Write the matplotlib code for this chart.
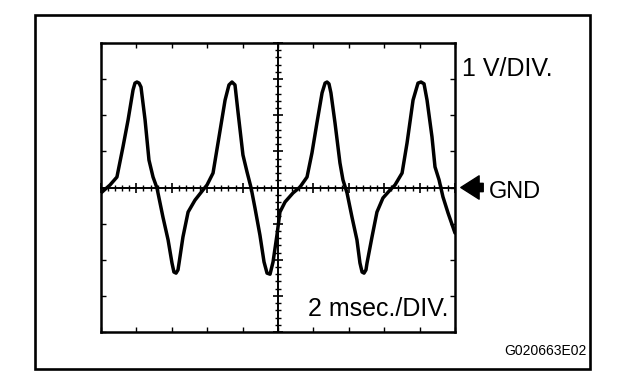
import matplotlib
matplotlib.use("Agg")
import matplotlib.pyplot as plt
from matplotlib.patches import Rectangle, FancyArrowPatch
from matplotlib.ticker import MultipleLocator, NullFormatter, NullLocator

plt.rcParams['font.family'] = ['Liberation Sans', 'DejaVu Sans']

# Waveform samples (time in ms, voltage in V)
time_ms = [0.00, 0.51, 0.90, 1.24, 1.53, 1.81, 1.92, 2.03, 2.15, 2.26, 2.49, 2.71,
           2.94, 3.16, 3.50, 3.79, 4.01, 4.12, 4.24, 4.35, 4.41, 4.63, 4.92, 5.31,
           5.76, 5.99, 6.33, 6.61, 7.01, 7.23, 7.40, 7.57, 7.74, 8.02, 8.25, 8.48,
           8.70, 8.98, 9.21, 9.38, 9.55, 9.72, 9.94, 10.11, 10.40, 10.85, 11.24,
           11.64, 11.92, 12.20, 12.49, 12.66, 12.77, 12.88, 12.99, 13.22, 13.50,
           13.67, 13.90, 14.18, 14.46, 14.63, 14.75, 14.86, 14.97, 15.03, 15.31,
           15.59, 15.93, 16.33, 16.61, 17.01, 17.29, 17.63, 17.91, 18.08, 18.25,
           18.42, 18.70, 18.87, 19.10, 19.32, 19.61, 20.00]
volts = [-0.15, 0.07, 0.29, 1.12, 1.87, 2.70, 2.89, 2.92, 2.89, 2.78, 1.87, 0.76,
         0.29, -0.01, -0.82, -1.45, -2.09, -2.34, -2.37, -2.28, -2.09, -1.37, -0.68,
         -0.35, -0.07, 0.07, 0.40, 1.23, 2.42, 2.84, 2.92, 2.84, 2.09, 0.90, 0.43,
         -0.01, -0.57, -1.32, -2.06, -2.37, -2.40, -2.06, -1.32, -0.68, -0.40,
         -0.15, 0.01, 0.29, 0.96, 1.79, 2.62, 2.89, 2.92, 2.87, 2.62, 1.79, 0.68,
         0.21, -0.15, -0.82, -1.45, -2.09, -2.34, -2.37, -2.28, -2.09, -1.37,
         -0.68, -0.29, -0.07, 0.07, 0.40, 1.23, 2.42, 2.89, 2.92, 2.87, 2.42, 1.40,
         0.57, 0.21, -0.26, -0.71, -1.26]

t_range = [0, 20]      # 10 divisions x 2 ms
v_range = [-4, 4]      # 8 divisions x 1 V
ms_per_div = 2
v_per_div = 1

W, H = 624, 382
fig = plt.figure(figsize=(W / 100, H / 100), dpi=100)
fig.patch.set_facecolor('white')

# outer border
fig.patches.append(Rectangle((35 / W, 1 - 369 / H), (590 - 35) / W, (369 - 15) / H,
                             transform=fig.transFigure, fill=False,
                             edgecolor='black', linewidth=1.9))

pos = [101 / W, 1 - 332 / H, (455 - 101) / W, (332 - 43) / H]

# screen frame axes
ax = fig.add_axes(pos)
ax.set_xlim(*t_range)
ax.set_ylim(*v_range)
for s in ax.spines.values():
    s.set_linewidth(1.8)
ax.xaxis.set_major_locator(MultipleLocator(ms_per_div))
ax.yaxis.set_major_locator(MultipleLocator(v_per_div))
ax.xaxis.set_minor_locator(NullLocator())
ax.yaxis.set_minor_locator(NullLocator())
ax.tick_params(which='major', direction='in', length=3.5, width=1.0,
               top=True, right=True, labelbottom=False, labelleft=False)
ax.set_facecolor('white')

# centre graticule axes
axc = fig.add_axes(pos)
axc.set_xlim(*t_range)
axc.set_ylim(*v_range)
axc.patch.set_visible(False)
axc.spines['top'].set_visible(False)
axc.spines['right'].set_visible(False)
axc.spines['left'].set_position(('data', (t_range[0] + t_range[1]) / 2))
axc.spines['bottom'].set_position(('data', 0))
axc.spines['left'].set_linewidth(1.4)
axc.spines['bottom'].set_linewidth(1.4)
axc.xaxis.set_major_locator(MultipleLocator(ms_per_div))
axc.xaxis.set_minor_locator(MultipleLocator(ms_per_div / 5))
axc.yaxis.set_major_locator(MultipleLocator(v_per_div))
axc.yaxis.set_minor_locator(MultipleLocator(v_per_div / 5))
axc.tick_params(which='major', direction='inout', length=7.5, width=1.2,
                labelbottom=False, labelleft=False)
axc.tick_params(which='minor', direction='inout', length=4.5, width=1.0)
axc.xaxis.set_minor_formatter(NullFormatter())
axc.yaxis.set_minor_formatter(NullFormatter())

axc.plot(time_ms, volts, color='black', linewidth=2.5, solid_joinstyle='round',
         solid_capstyle='round', clip_on=True)

# labels
fig.text(462 / W, 1 - 76 / H, '1 V/DIV.', fontsize=18, ha='left', va='baseline')
fig.text(449 / W, 1 - 316 / H, '2 msec./DIV.', fontsize=18, ha='right', va='baseline')
fig.text(489 / W, 1 - 198 / H, 'GND', fontsize=17, ha='left', va='baseline')
fig.text(587 / W, 1 - 355 / H, 'G020663E02', fontsize=10, ha='right', va='baseline')

fig.patches.append(FancyArrowPatch(
    (486 / W, 1 - 187.5 / H), (458 / W, 1 - 187.5 / H),
    transform=fig.transFigure,
    arrowstyle='simple,head_length=1.1,head_width=1.4,tail_width=0.5',
    mutation_scale=12, color='black'))

fig.savefig('out.png', dpi=100, facecolor='white')
